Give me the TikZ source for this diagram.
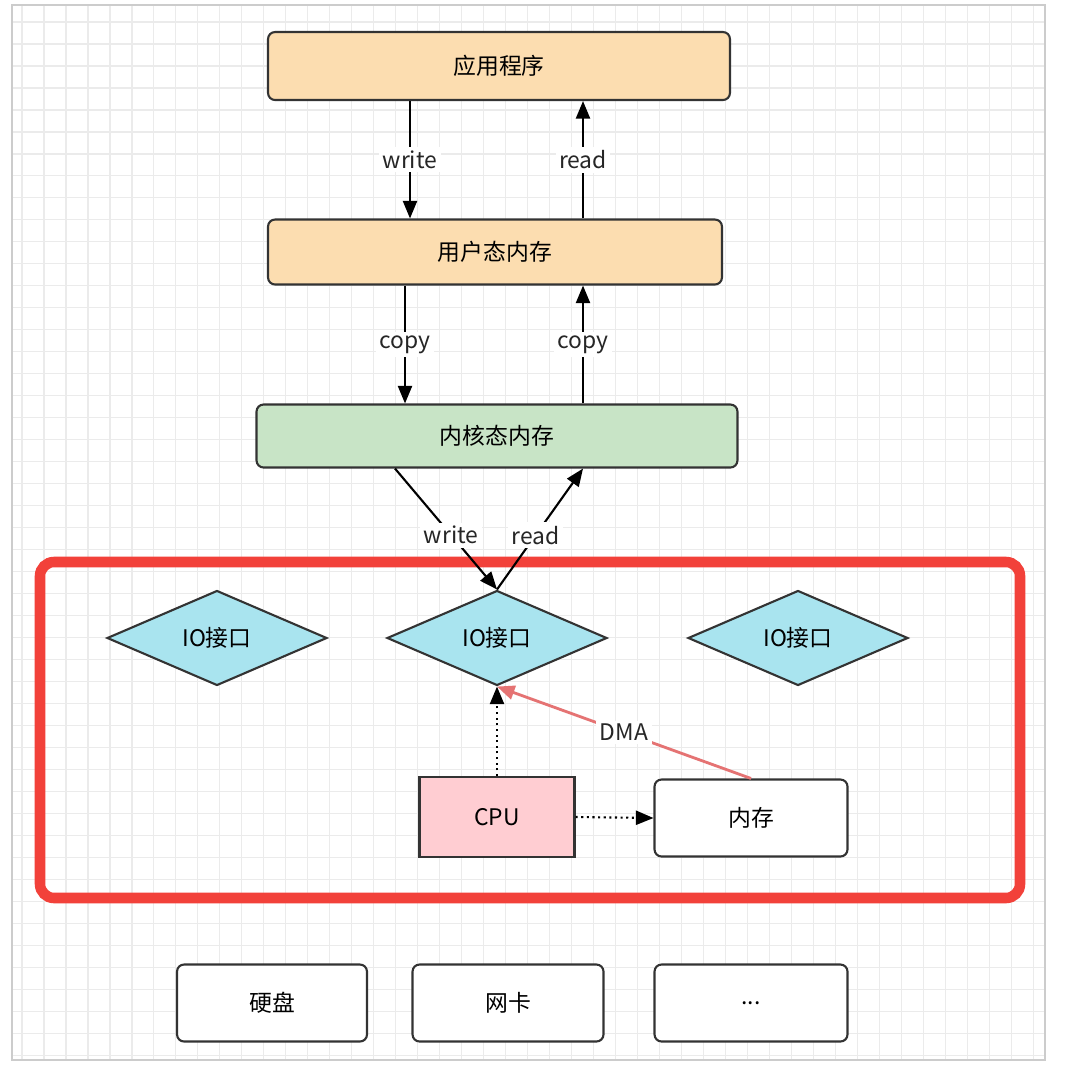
\documentclass[tikz,border=0pt]{standalone}
\usepackage{fontspec}
\setmainfont{Noto Sans CJK SC}
\usetikzlibrary{shapes.geometric,arrows.meta}
\definecolor{boxorange}{HTML}{FCDDB0}
\definecolor{boxgreen}{HTML}{C8E4C6}
\definecolor{boxcyan}{HTML}{A9E4EF}
\definecolor{boxpink}{HTML}{FFCDD2}
\definecolor{frame}{HTML}{F2413A}
\definecolor{dmaline}{HTML}{E57373}
\tikzset{
  box/.style={draw=black!80, line width=1.2pt, rounded corners=4pt, minimum height=#1, inner sep=0pt},
  chip/.style={diamond, aspect=2.3, draw=black!80, line width=1.2pt, fill=boxcyan, minimum width=4.4cm, minimum height=1.9cm, inner sep=0pt},
  flow/.style={line width=1.2pt, -{Triangle[length=10pt,width=8pt]}},
  lbl/.style={fill=white, inner sep=2pt, text=black!85}
}
\begin{document}
\fontsize{13}{15}\selectfont
\begin{tikzpicture}[x=0.02cm,y=-0.02cm]
  \useasboundingbox (0,0) rectangle (1075,1069);
  \fill[white] (12,5) rectangle (1045,1060);
  \draw[black!8, line width=0.6pt, step=0.44cm] (12,5) grid (1045,1060);
  \draw[black!20, line width=0.6pt] (12,5) rectangle (1045,1060);
  % upper stack
  \node[box=1.36cm, fill=boxorange, minimum width=9.24cm] (app) at (499,66) {应用程序};
  \node[box=1.3cm, fill=boxorange, minimum width=9.08cm] (user) at (495,252) {用户态内存};
  \node[box=1.26cm, fill=boxgreen, minimum width=9.62cm] (kern) at (497,436) {内核态内存};
  \draw[flow] (app.south -| 410,0) -- node[lbl] {write} (user.north -| 410,0);
  \draw[flow] (user.north -| 583,0) -- node[lbl] {read} (app.south -| 583,0);
  \draw[flow] (user.south -| 405,0) -- node[lbl] {copy} (kern.north -| 405,0);
  \draw[flow] (kern.north -| 583,0) -- node[lbl] {copy} (user.south -| 583,0);
  % hardware frame
  \draw[frame, line width=6pt, rounded corners=8pt] (40,562) rectangle (1020,898);
  \node[chip] (io1) at (217,638) {IO接口};
  \node[chip] (io2) at (497,638) {IO接口};
  \node[chip] (io3) at (798,638) {IO接口};
  \draw[flow] (kern.south -| 395,0) -- node[lbl, pos=0.55] {write} (io2.north);
  \draw[flow] (io2.north) -- node[lbl, pos=0.45] {read} (kern.south -| 583,0);
  \node[box=1.6cm, fill=boxpink, minimum width=3.1cm, rounded corners=0pt] (cpu) at (497,817) {CPU};
  \node[box=1.54cm, fill=white, minimum width=3.86cm] (mem) at (751,818) {内存};
  \draw[flow, dotted] (cpu.north) -- (io2.south);
  \draw[flow, dotted] (cpu.east) -- (mem.west);
  \draw[dmaline, line width=1.6pt, -{Triangle[length=10pt,width=8pt]}] (mem.north) -- node[lbl, pos=0.5] {DMA} (io2.south);
  % devices
  \node[box=1.54cm, fill=white, minimum width=3.8cm] (disk) at (272,1003) {硬盘};
  \node[box=1.54cm, fill=white, minimum width=3.82cm] (nic) at (508,1003) {网卡};
  \node[box=1.54cm, fill=white, minimum width=3.86cm] (more) at (751,1003) {...};
\end{tikzpicture}
\end{document}
